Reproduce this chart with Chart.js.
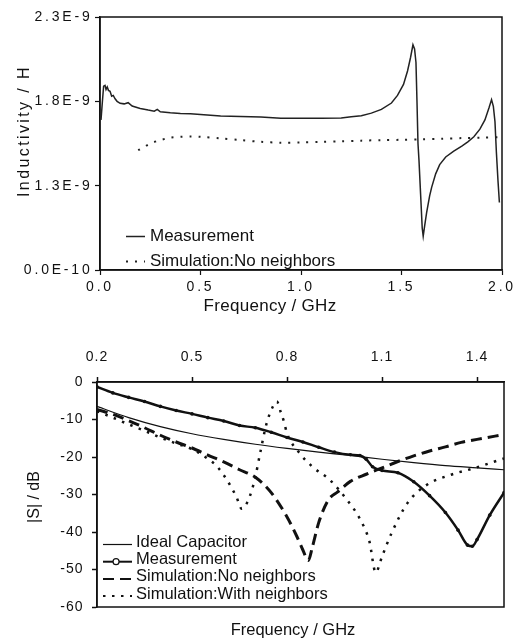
<!DOCTYPE html>
<html>
<head>
<meta charset="utf-8">
<script src="https://cdn.jsdelivr.net/npm/chart.js@4.4.0/dist/chart.umd.min.js"></script>
<style>
  html, body { margin: 0; padding: 0; background: #fff; }
  .wrap { position: relative; width: 523px; height: 640px; }
  canvas { position: absolute; left: 0; }
  #indChart { top: 0; }
  #sChart { top: 320px; }
</style>
</head>
<body>
<div class="wrap">
  <canvas id="indChart" width="523" height="320"></canvas>
  <canvas id="sChart" width="523" height="320"></canvas>
</div>
<script>
// ---- top panel: inductivity (x 1E-9 H) vs frequency (GHz)
const indMeasFreq = [0.005, 0.012, 0.018, 0.025, 0.03, 0.036, 0.042, 0.05, 0.058, 0.066, 0.075, 0.085, 0.1, 0.12, 0.14, 0.16,
  0.2, 0.24, 0.27, 0.285, 0.3, 0.35, 0.4, 0.45, 0.5, 0.6, 0.7, 0.8, 0.9, 1.0, 1.1, 1.2, 1.25, 1.3, 1.35, 1.4, 1.45, 1.48,
  1.51, 1.53, 1.545, 1.557, 1.565, 1.572, 1.577, 1.582, 1.587, 1.595, 1.603, 1.608, 1.615, 1.625, 1.64, 1.65, 1.67, 1.69,
  1.72, 1.76, 1.8, 1.83, 1.86, 1.89, 1.915, 1.935, 1.948, 1.957, 1.965, 1.972, 1.98, 1.987];
const indMeasL = [1.69, 1.80, 1.89, 1.895, 1.87, 1.885, 1.865, 1.86, 1.83, 1.835, 1.815, 1.80, 1.788, 1.785, 1.792, 1.772,
  1.758, 1.748, 1.742, 1.752, 1.738, 1.732, 1.728, 1.727, 1.722, 1.713, 1.71, 1.707, 1.70, 1.70, 1.70, 1.701, 1.708, 1.715, 1.73, 1.752, 1.79, 1.835,
  1.90, 1.98, 2.06, 2.135, 2.11, 2.03, 1.80, 1.55, 1.45, 1.25, 1.05, 1.00, 1.06, 1.14, 1.24, 1.29, 1.37, 1.425,
  1.47, 1.505, 1.535, 1.56, 1.59, 1.635, 1.69, 1.76, 1.81, 1.77, 1.68, 1.50, 1.33, 1.20];
const indSimFreq = [0.19, 0.22, 0.25, 0.3, 0.35, 0.4, 0.45, 0.5, 0.6, 0.7, 0.8, 0.9, 1.0, 1.1, 1.2, 1.3, 1.4, 1.5, 1.6, 1.7, 1.8, 1.9, 1.99];
const indSimL = [1.51, 1.53, 1.55, 1.57, 1.585, 1.59, 1.592, 1.59, 1.58, 1.57, 1.56, 1.555, 1.556, 1.56, 1.563, 1.567, 1.57, 1.572, 1.575, 1.578, 1.582, 1.585, 1.588];
const indXTicks = [0, 0.5, 1.0, 1.5, 2.0];
const indYTicks = [0.8, 1.3, 1.8, 2.3];
const indYLabels = ['0.0E-10', '1.3E-9', '1.8E-9', '2.3E-9'];

// ---- bottom panel: |S| (dB) vs frequency (GHz)
const sIdealFreq = [0.2, 0.3, 0.4, 0.5, 0.6, 0.7, 0.8, 0.9, 1.0, 1.1, 1.2, 1.3, 1.4, 1.485];
const sIdealDb = [-6.5, -9.5, -11.9, -13.8, -15.3, -16.6, -17.7, -18.7, -19.6, -20.6, -21.5, -22.3, -22.9, -23.4];
const sMeasFreq = [0.2, 0.25, 0.3, 0.35, 0.4, 0.45, 0.5, 0.55, 0.6, 0.65, 0.7, 0.75, 0.8, 0.85, 0.9, 0.95, 1.0, 1.03, 1.05,
  1.07, 1.1, 1.15, 1.2, 1.25, 1.3, 1.34, 1.37, 1.385, 1.4, 1.44, 1.485];
const sMeasDb = [-1.3, -2.9, -4.1, -5.2, -6.5, -7.6, -8.5, -9.5, -10.4, -11.6, -12.2, -13.4, -14.8, -16.0, -17.4, -18.7, -19.4, -19.6, -20.6,
  -22.6, -23.6, -24.2, -26.6, -30.3, -34.8, -39.5, -43.5, -43.8, -42.0, -35.5, -29.5];
const sNoNbFreq = [0.2, 0.25, 0.3, 0.35, 0.4, 0.45, 0.5, 0.55, 0.6, 0.65, 0.7, 0.75, 0.8, 0.83, 0.85, 0.867, 0.88, 0.9, 0.93,
  0.96, 1.0, 1.05, 1.1, 1.15, 1.2, 1.25, 1.3, 1.35, 1.4, 1.485];
const sNoNbDb = [-7.3, -8.6, -10.3, -12.2, -14.2, -16.0, -17.6, -19.5, -21.3, -23.4, -25.4, -29.5, -36.0, -41.0, -44.8, -47.6, -44.0, -37.5, -31.5,
  -29.3, -26.5, -24.6, -22.9, -21.2, -19.7, -18.4, -17.3, -16.1, -15.3, -14.0];
const sNbFreq = [0.2, 0.25, 0.3, 0.35, 0.4, 0.45, 0.5, 0.55, 0.58, 0.61, 0.64, 0.657, 0.675, 0.69, 0.7, 0.715, 0.735, 0.755, 0.768,
  0.78, 0.79, 0.8, 0.84, 0.88, 0.935, 0.99, 1.03, 1.06, 1.08, 1.1, 1.13, 1.18, 1.24, 1.315, 1.39, 1.485];
const sNbDb = [-7.8, -9.5, -11.3, -13.0, -14.8, -16.4, -17.9, -20.5, -22.6, -26.1, -30.6, -33.8, -32.0, -28.5, -25.3, -19.0, -11.2, -6.6, -5.2,
  -8.0, -10.5, -13.7, -19.0, -22.6, -26.1, -31.5, -36.5, -42.5, -50.8, -46.5, -40.3, -32.3, -27.5, -24.8, -23.0, -20.4];
const sXTicks = [0.2, 0.5, 0.8, 1.1, 1.4];

const INK = '#111';
const FONT = "'Liberation Sans', Arial, Helvetica, sans-serif";

function xy(xs, ys) { return xs.map((x, i) => ({ x, y: ys[i] })); }

// box around the plot area, letter-spaced tick text like the printed figure
const framePlugin = {
  id: 'frame',
  beforeDraw(chart, args, opts) {
    chart.ctx.letterSpacing = (opts.tickSpacing || 0) + 'px';
  },
  beforeDatasetsDraw(chart, args, opts) {
    const { ctx, chartArea: a } = chart;
    ctx.letterSpacing = '0px';
    ctx.save();
    ctx.strokeStyle = INK;
    ctx.lineWidth = opts.width || 1.5;
    ctx.strokeRect(a.left, a.top, a.right - a.left, a.bottom - a.top);
    ctx.restore();
  }
};

// axis titles and the in-plot legend
const textPlugin = {
  id: 'paperText',
  afterDraw(chart, args, opts) {
    const ctx = chart.ctx;
    ctx.save();
    ctx.fillStyle = INK;
    ctx.textBaseline = 'middle';
    (opts.titles || []).forEach(t => {
      ctx.save();
      ctx.font = t.size + 'px ' + FONT;
      ctx.letterSpacing = (t.spacing || 0) + 'px';
      ctx.textAlign = 'center';
      ctx.translate(t.x, t.y);
      if (t.rotate) ctx.rotate(-Math.PI / 2);
      ctx.fillText(t.text, 0, 0);
      ctx.restore();
    });
    const lg = opts.legend;
    if (lg) {
      ctx.font = lg.size + 'px ' + FONT;
      ctx.textAlign = 'left';
      ctx.letterSpacing = '0px';
      chart.data.datasets.forEach((ds, i) => {
        const y = lg.y + i * lg.row;
        const ly = y + (lg.lineDrop || 0);
        ctx.save();
        ctx.strokeStyle = ds.borderColor;
        ctx.lineWidth = Math.min(ds.borderWidth, 2);
        ctx.setLineDash(ds.borderDash || []);
        ctx.beginPath();
        ctx.moveTo(lg.x, ly);
        ctx.lineTo(lg.x + lg.len, ly);
        ctx.stroke();
        if (ds.pointRadius > 0) {
          ctx.setLineDash([]);
          ctx.lineWidth = 1.2;
          ctx.fillStyle = '#fff';
          ctx.beginPath();
          ctx.arc(lg.x + lg.len * 0.45, ly, 3, 0, Math.PI * 2);
          ctx.fill();
          ctx.stroke();
        }
        ctx.restore();
        ctx.fillText(ds.label, lg.x + lg.len + lg.gap, y);
      });
    }
    ctx.restore();
  }
};

Chart.register(framePlugin, textPlugin);

const tickFont = { family: FONT, size: 14 };

// ---- Inductivity chart
new Chart(document.getElementById('indChart').getContext('2d'), {
  type: 'line',
  data: {
    datasets: [
      { label: 'Measurement', data: xy(indMeasFreq, indMeasL), borderColor: '#222', borderWidth: 1.5, pointRadius: 0, tension: 0 },
      { label: 'Simulation:No neighbors', data: xy(indSimFreq, indSimL), borderColor: '#222', borderWidth: 2, borderDash: [2, 7], pointRadius: 0, tension: 0.3 }
    ]
  },
  options: {
    responsive: false, animation: false, events: [],
    layout: { padding: { left: 0, top: 17, right: 21, bottom: 0 } },
    plugins: {
      legend: { display: false }, tooltip: { enabled: false },
      frame: { tickSpacing: 2.8, width: 1.5 },
      paperText: {
        titles: [
          { text: 'Frequency / GHz', x: 270, y: 306, size: 17, spacing: 0.3 },
          { text: 'Inductivity / H', x: 25, y: 131, size: 16, spacing: 2.4, rotate: true }
        ],
        legend: { x: 126, y: 236.5, row: 25, len: 19, gap: 5, size: 17 }
      }
    },
    scales: {
      x: {
        type: 'linear', min: 0, max: 2,
        afterBuildTicks: s => { s.ticks = indXTicks.map(v => ({ value: v })); },
        afterFit: s => { s.height = 50; },
        grid: { drawOnChartArea: false, tickLength: 5, color: INK, tickWidth: 1.2 },
        border: { color: INK, width: 1.5 },
        ticks: { color: INK, font: tickFont, padding: 3.6, maxRotation: 0, autoSkip: false, callback: v => v.toFixed(1) }
      },
      y: {
        type: 'linear', min: 0.8, max: 2.3,
        afterBuildTicks: s => { s.ticks = indYTicks.map(v => ({ value: v })); },
        afterFit: s => { s.width = 100; },
        grid: { drawOnChartArea: false, tickLength: 5, color: INK, tickWidth: 1.2 },
        border: { color: INK, width: 1.5 },
        ticks: { color: INK, font: tickFont, padding: 2.5, autoSkip: false, callback: (v, i) => indYLabels[i] }
      }
    }
  }
});

// ---- |S| chart
new Chart(document.getElementById('sChart').getContext('2d'), {
  type: 'line',
  data: {
    datasets: [
      { label: 'Ideal Capacitor', data: xy(sIdealFreq, sIdealDb), borderColor: INK, borderWidth: 1.2, pointRadius: 0, cubicInterpolationMode: 'monotone' },
      { label: 'Measurement', data: xy(sMeasFreq, sMeasDb), borderColor: INK, borderWidth: 2.5, pointRadius: 1.8, pointBackgroundColor: INK, pointBorderWidth: 0, cubicInterpolationMode: 'monotone' },
      { label: 'Simulation:No neighbors', data: xy(sNoNbFreq, sNoNbDb), borderColor: INK, borderWidth: 3, borderDash: [11, 6], pointRadius: 0, cubicInterpolationMode: 'monotone' },
      { label: 'Simulation:With neighbors', data: xy(sNbFreq, sNbDb), borderColor: INK, borderWidth: 2.5, borderDash: [2.5, 6.5], pointRadius: 0, cubicInterpolationMode: 'monotone' }
    ]
  },
  options: {
    responsive: false, animation: false, events: [],
    layout: { padding: { left: 0, top: 0, right: 19, bottom: 33 } },
    plugins: {
      legend: { display: false }, tooltip: { enabled: false },
      frame: { tickSpacing: 1, width: 1.5 },
      paperText: {
        titles: [
          { text: 'Frequency / GHz', x: 293, y: 310, size: 16.5 },
          { text: '|S| / dB', x: 35, y: 177, size: 16, rotate: true }
        ],
        legend: { x: 103, y: 222.5, row: 17.2, len: 29, gap: 4, size: 16.5, lineDrop: 2 }
      }
    },
    scales: {
      x: {
        type: 'linear', position: 'top', min: 0.2, max: 1.485,
        afterBuildTicks: s => { s.ticks = sXTicks.map(v => ({ value: v })); },
        afterFit: s => { s.height = 62; },
        grid: { drawOnChartArea: false, tickLength: 5, color: INK, tickWidth: 1.5 },
        border: { color: INK, width: 1.5 },
        ticks: { color: INK, font: tickFont, padding: 11.6, maxRotation: 0, autoSkip: false, callback: v => v.toFixed(1) }
      },
      y: {
        type: 'linear', min: -60, max: 0,
        ticks: { stepSize: 10, color: INK, font: tickFont, padding: 8.5, autoSkip: false },
        afterFit: s => { s.width = 97; },
        grid: { drawOnChartArea: false, tickLength: 5, color: INK, tickWidth: 1.5 },
        border: { color: INK, width: 1.5 }
      }
    }
  }
});
</script>
</body>
</html>
